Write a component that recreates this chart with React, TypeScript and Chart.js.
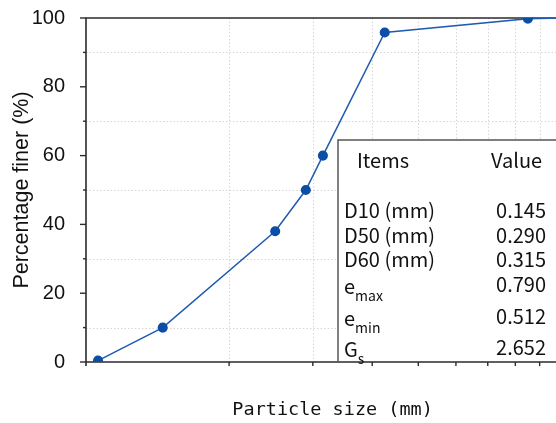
import React, { useEffect, useRef } from 'react';
import { Chart, registerables } from 'chart.js';

Chart.register(...registerables);

// Particle size (mm) and percentage finer (%)
const particleSizes = [0.106, 0.145, 0.25, 0.29, 0.315, 0.425, 0.85, 1.0];
const percentFiner = [0.4, 10, 38, 50, 60, 95.8, 99.8, 100];

const xMin = 0.1;
const xMax = 1.09;
const yMajorTicks = [0, 20, 40, 60, 80, 100];
const yMinorTicks = [10, 30, 50, 70, 90];
const xLogTicks = [0.1, 0.2, 0.3, 0.4, 0.5, 0.6, 0.7, 0.8, 0.9, 1.0];

const tableHeader = ['Items', 'Value'];
const itemNames = ['D10 (mm)', 'D50 (mm)', 'D60 (mm)', 'e', 'e', 'G'];
const itemSubs = ['', '', '', 'max', 'min', 's'];
const itemValues = ['0.145', '0.290', '0.315', '0.790', '0.512', '2.652'];

const JP = '"Noto Sans CJK JP", "Noto Sans", sans-serif';
const MONO = '"DejaVu Sans Mono", "Liberation Mono", monospace';
const SANS = '"Liberation Sans", Arial, sans-serif';

export default function App() {
  const ref = useRef<HTMLCanvasElement | null>(null);

  useEffect(() => {
    if (!ref.current) return;

    const overlay = {
      id: 'overlay',
      beforeDatasetsDraw(chart: any) {
        const { ctx, chartArea } = chart;
        const { left, right, top, bottom } = chartArea;
        const xs = chart.scales.x;
        const ys = chart.scales.y;
        ctx.save();
        // dotted grid
        ctx.strokeStyle = '#d6d6d6';
        ctx.lineWidth = 1;
        ctx.setLineDash([1.5, 2]);
        yMinorTicks.forEach((v) => {
          const y = Math.round(ys.getPixelForValue(v)) + 0.5;
          ctx.beginPath();
          ctx.moveTo(left, y);
          ctx.lineTo(right, y);
          ctx.stroke();
        });
        xLogTicks.slice(1).forEach((v) => {
          const x = Math.round(xs.getPixelForValue(v)) + 0.5;
          ctx.beginPath();
          ctx.moveTo(x, top);
          ctx.lineTo(x, bottom);
          ctx.stroke();
        });
        ctx.setLineDash([]);

        // table background
        const tx = 338;
        const ty = 140;
        ctx.fillStyle = '#ffffff';
        ctx.fillRect(tx, ty, right - tx, bottom - ty);

        // frame
        ctx.strokeStyle = '#2b2b2b';
        ctx.lineWidth = 1.6;
        ctx.beginPath();
        ctx.moveTo(right, top);
        ctx.lineTo(left, top);
        ctx.lineTo(left, bottom + 4);
        ctx.moveTo(left, bottom);
        ctx.lineTo(right, bottom);
        ctx.stroke();

        // tick marks
        ctx.lineWidth = 1.4;
        yMajorTicks.forEach((v) => {
          const y = ys.getPixelForValue(v);
          ctx.beginPath();
          ctx.moveTo(left - 6, y);
          ctx.lineTo(left, y);
          ctx.stroke();
        });
        yMinorTicks.forEach((v) => {
          const y = ys.getPixelForValue(v);
          ctx.beginPath();
          ctx.moveTo(left - 3, y);
          ctx.lineTo(left, y);
          ctx.stroke();
        });
        xLogTicks.slice(1).forEach((v) => {
          const x = xs.getPixelForValue(v);
          ctx.beginPath();
          ctx.moveTo(x, bottom);
          ctx.lineTo(x, bottom + 4);
          ctx.stroke();
        });

        // table border
        ctx.strokeStyle = '#555555';
        ctx.lineWidth = 1.5;
        ctx.beginPath();
        ctx.moveTo(tx, bottom);
        ctx.lineTo(tx, ty);
        ctx.lineTo(right, ty);
        ctx.stroke();

        // table text
        ctx.fillStyle = '#111111';
        ctx.textBaseline = 'middle';
        ctx.font = `20px ${JP}`;
        ctx.textAlign = 'left';
        ctx.fillText(tableHeader[0], 357, 160);
        ctx.fillText(tableHeader[1], 491, 160);
        const rowY = [210, 235, 259, 284, 316, 347];
        itemNames.forEach((name, i) => {
          ctx.font = `20px ${JP}`;
          ctx.textAlign = 'left';
          const yy = i >= 3 ? rowY[i] + 2 : rowY[i];
          ctx.fillText(name, 344, yy);
          if (itemSubs[i]) {
            const w = ctx.measureText(name).width;
            ctx.font = `14px ${JP}`;
            ctx.fillText(itemSubs[i], 344 + w, yy + 10);
          }
          ctx.font = `20px ${JP}`;
          ctx.textAlign = 'right';
          ctx.fillText(itemValues[i], 546, rowY[i]);
        });
        ctx.restore();
      },
    };

    const chart = new Chart(ref.current, {
      type: 'line',
      data: {
        datasets: [
          {
            data: particleSizes.map((x, i) => ({ x, y: percentFiner[i] })),
            borderColor: '#1f5ab3',
            backgroundColor: '#0c4ea6',
            pointBackgroundColor: '#0c4ea6',
            pointBorderColor: '#0c4ea6',
            borderWidth: 1.5,
            pointRadius: 4.3,
            tension: 0,
            fill: false,
          },
        ],
      },
      options: {
        animation: false,
        responsive: false,
        maintainAspectRatio: false,
        layout: { padding: { top: 18, right: 4, left: 0, bottom: 0 } },
        plugins: { legend: { display: false }, tooltip: { enabled: false } },
        scales: {
          x: {
            type: 'logarithmic',
            min: xMin,
            max: xMax,
            grid: { display: false },
            border: { display: false },
            ticks: { display: false },
            title: {
              display: true,
              text: 'Particle size (mm)',
              font: { family: MONO, size: 18.5 },
              color: '#111111',
              padding: { top: 0, bottom: 2 },
            },
            afterFit: (s: any) => {
              s.height = 61;
              s.paddingLeft = 0;
              s.paddingRight = 0;
            },
          },
          y: {
            min: 0,
            max: 100,
            grid: { display: false },
            border: { display: false },
            ticks: {
              stepSize: 20,
              padding: 13,
              color: '#111111',
              font: { family: SANS, size: 20 },
            },
            title: {
              display: true,
              text: 'Percentage finer (%)',
              font: { family: SANS, size: 21.5 },
              color: '#111111',
              padding: { top: 9, bottom: 0 },
            },
            afterFit: (s: any) => {
              s.width = 86;
              s.paddingTop = 0;
              s.paddingBottom = 0;
            },
          },
        },
      },
      plugins: [overlay],
    });

    return () => chart.destroy();
  }, []);

  return (
    <div
      style={{
        position: 'fixed',
        left: 0,
        top: 0,
        width: 556,
        height: 423,
        overflow: 'hidden',
        background: '#ffffff',
      }}
    >
      <div style={{ width: 585, height: 423 }}>
        <canvas ref={ref} width={585} height={423} style={{ display: 'block' }} />
      </div>
    </div>
  );
}
